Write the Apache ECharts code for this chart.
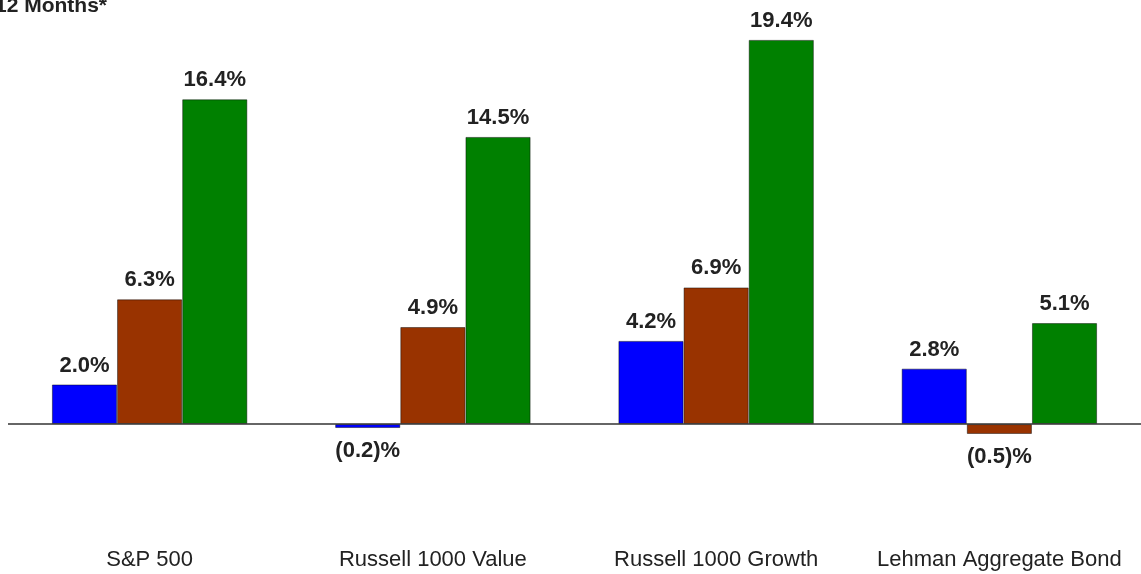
<!DOCTYPE html>
<html>
<head>
<meta charset="utf-8">
<script src="https://cdn.jsdelivr.net/npm/echarts@6/dist/echarts.min.js"></script>
<style>
	html, body { margin: 0; padding: 0; background: #fff; }
	#chart { width: 1141px; height: 574px; }
</style>
</head>
<body>
<div id="chart"></div>
<script>
	const categories = ['S&P 500', 'Russell 1000 Value', 'Russell 1000 Growth', 'Lehman Aggregate Bond']
	const seriesNames = ['3 Months', 'Year to Date', '12 Months']
	const threeMonths = [2.0, -0.2, 4.2, 2.8]
	const yearToDate = [6.3, 4.9, 6.9, -0.5]
	const twelveMonths = [16.4, 14.5, 19.4, 5.1]
	const colors = ['#0000ff', '#993300', '#008000']

	const font = 'Liberation Sans, Arial, sans-serif'

	function fmt(v) {
		return v < 0 ? '(' + Math.abs(v).toFixed(1) + ')%' : v.toFixed(1) + '%'
	}

	function makeSeries(name, values, color, withZeroLine) {
		let s = {
			name: name,
			type: 'bar',
			barGap: 0,
			barCategoryGap: '31%',
			itemStyle: { color: color, borderColor: 'rgba(0,0,0,0.45)', borderWidth: 1 },
			data: values.map(v => ({
				value: v,
				label: {
					show: true,
					position: v < 0 ? 'bottom' : 'top',
					distance: v < 0 ? 12 : 8,
					formatter: fmt(v),
					fontFamily: font,
					fontWeight: 'bold',
					fontSize: 22,
					color: '#222'
				}
			}))
		}
		if (withZeroLine) {
			s.markLine = {
				silent: true,
				symbol: 'none',
				label: { show: false },
				lineStyle: { color: '#333', width: 1.5, type: 'solid' },
				data: [{ yAxis: 0 }]
			}
		}
		return s
	}

	let myChart = echarts.init(document.getElementById('chart'))
	let option = {
		animation: false,
		graphic: [{
			type: 'text',
			left: -5,
			top: -4,
			style: {
				text: '12 Months*',
				fontFamily: font,
				fontSize: 21,
				fontWeight: 'bold',
				fill: '#222'
			}
		}],
		grid: {
			left: 8,
			right: 0,
			top: 28,
			bottom: 41,
			containLabel: false
		},
		xAxis: {
			type: 'category',
			data: categories,
			axisLine: { show: false },
			axisTick: { show: false },
			axisLabel: {
				interval: 0,
				hideOverlap: false,
				margin: 16,
				fontFamily: font,
				fontSize: 22,
				color: '#222'
			}
		},
		yAxis: {
			type: 'value',
			min: -5.5,
			max: 20,
			show: false,
			splitLine: { show: false }
		},
		series: [
			makeSeries(seriesNames[0], threeMonths, colors[0], true),
			makeSeries(seriesNames[1], yearToDate, colors[1], false),
			makeSeries(seriesNames[2], twelveMonths, colors[2], false)
		]
	}
	myChart.setOption(option)
</script>
</body>
</html>
